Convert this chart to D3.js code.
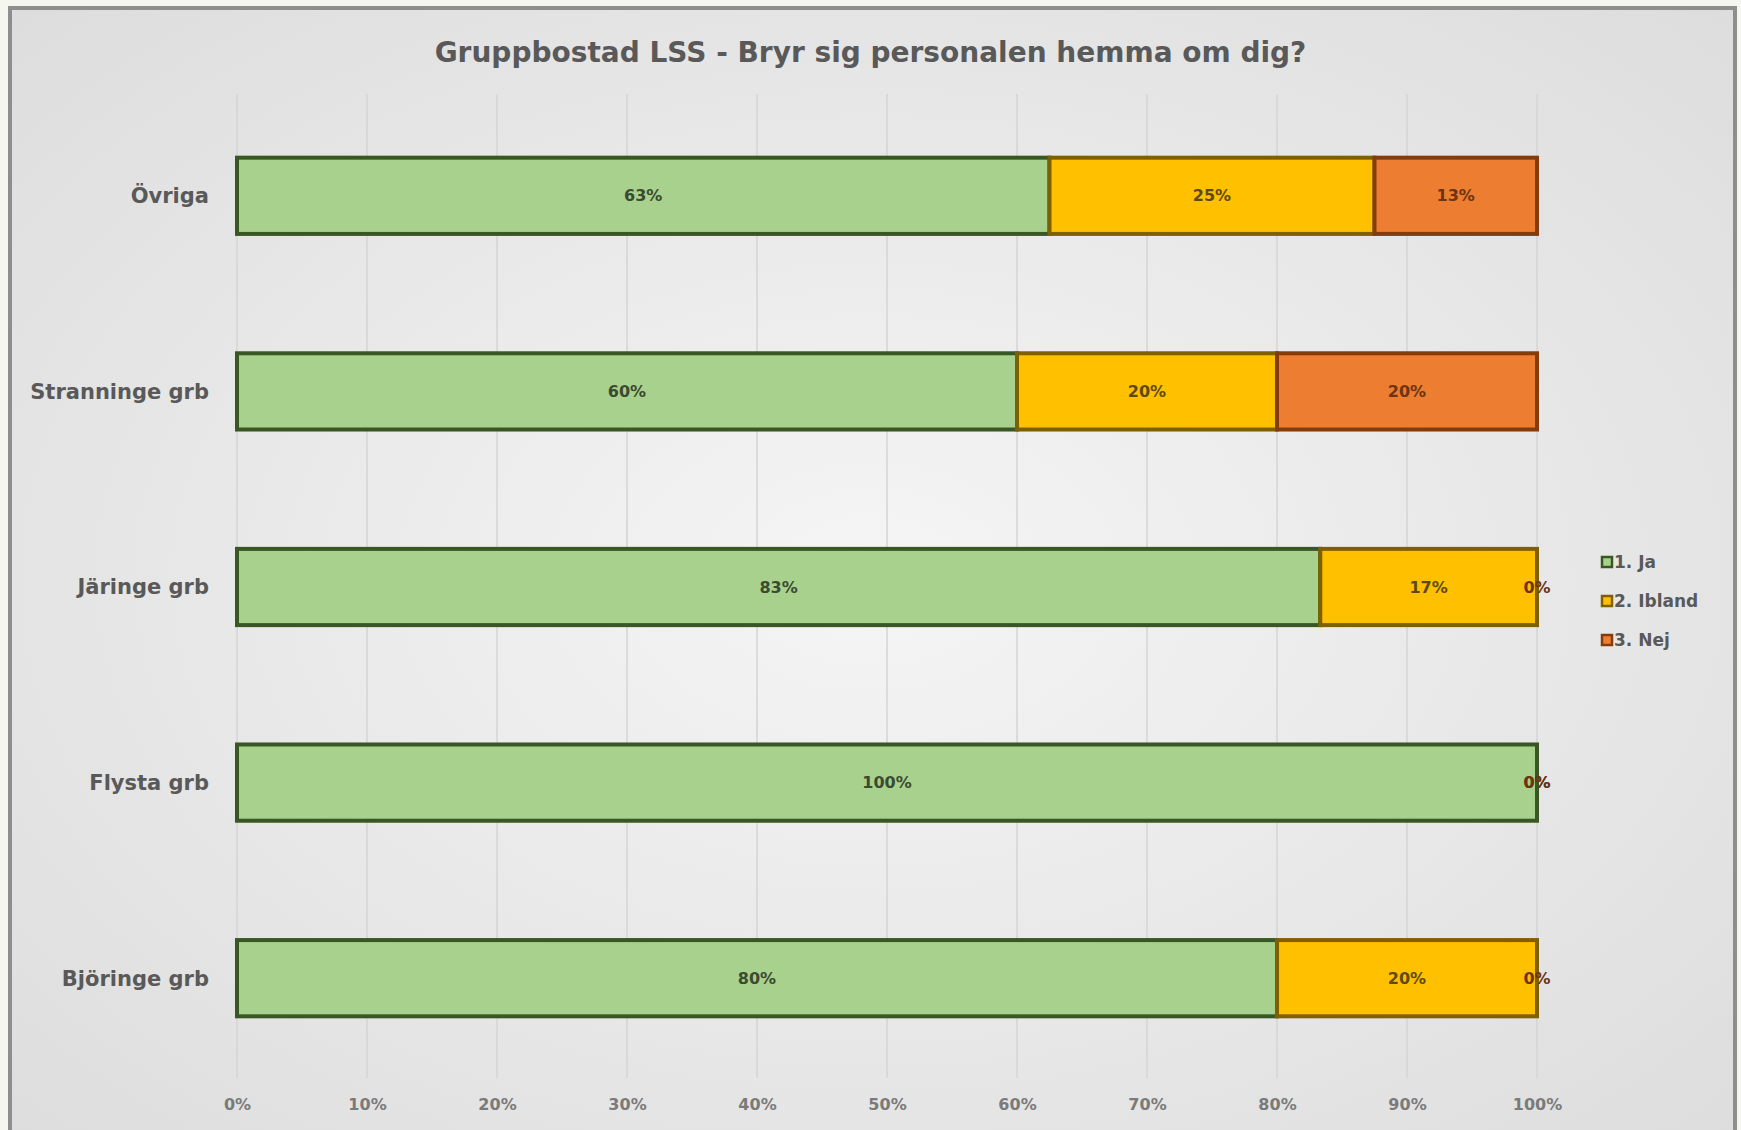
<!DOCTYPE html>
<html>
<head>
<meta charset="utf-8">
<script src="https://cdn.jsdelivr.net/npm/d3@7"></script>
<style>
  body { margin: 0; background: #f6f6f1; }
  svg text { font-family: "DejaVu Sans", sans-serif; }
</style>
</head>
<body>
<div class="chart-container"></div>
<script>
const width = 1741, height = 1130;

// chart values
const categories = ["Övriga", "Stranninge grb", "Järinge grb", "Flysta grb", "Björinge grb"];
const seriesNames = ["1. Ja", "2. Ibland", "3. Nej"];
const ja     = [0.625, 0.60, 0.8333, 1.00, 0.80];
const ibland = [0.25,  0.20, 0.1667, 0.00, 0.20];
const nej    = [0.125, 0.20, 0.00,   0.00, 0.00];
const xTicks = [0, 0.1, 0.2, 0.3, 0.4, 0.5, 0.6, 0.7, 0.8, 0.9, 1.0];
const title = "Gruppbostad LSS - Bryr sig personalen hemma om dig?";

const fills   = ["#a9d18e", "#ffc000", "#ed7d31"];
const strokes = ["#385723", "#7f6000", "#843c0c"];
const labelCol = ["#3b4a30", "#5e4a10", "#6b3412"];

var rows = categories.map((c, i) => ({cat: c, "1. Ja": ja[i], "2. Ibland": ibland[i], "3. Nej": nej[i]}));
var stacked = d3.stack().keys(seriesNames)(rows);

var svg = d3.select(".chart-container")
    .append("svg")
    .attr("width", width)
    .attr("height", height);

// background + frame
var defs = svg.append("defs");
var grad = defs.append("radialGradient").attr("id", "bg")
    .attr("cx", "50%").attr("cy", "50%").attr("r", "70%");
grad.append("stop").attr("offset", "0%").attr("stop-color", "#f5f5f5");
grad.append("stop").attr("offset", "100%").attr("stop-color", "#dddddd");

svg.append("rect")
    .attr("x", 10).attr("y", 8)
    .attr("width", 1725).attr("height", 1140)
    .attr("fill", "url(#bg)")
    .attr("stroke", "#8e8e8e")
    .attr("stroke-width", 4);

var margin = {left: 237, right: 1741 - 1537, top: 98, bottom: 1130 - 1076};

var x = d3.scaleLinear()
    .domain([0, 1])
    .range([margin.left, width - margin.right]);

var y = d3.scaleBand()
    .domain(categories)
    .range([margin.top, height - margin.bottom])
    .paddingInner(0.6)
    .paddingOuter(0.3);

// gridlines
svg.append("g")
    .selectAll("line")
    .data(xTicks)
    .enter()
    .append("line")
    .attr("x1", d => x(d)).attr("x2", d => x(d))
    .attr("y1", 94).attr("y2", 1078)
    .attr("stroke", "#d4d4d4")
    .attr("stroke-width", 1.5);

// x axis labels
var xAxis = d3.axisBottom(x).tickValues(xTicks).tickFormat(d3.format(".0%")).tickSize(0).tickPadding(0);
var xg = svg.append("g")
    .attr("transform", "translate(0,1099)")
    .call(xAxis);
xg.select(".domain").remove();
xg.selectAll("text")
    .attr("fill", "#7a7a7a")
    .style("font-size", "16px")
    .style("font-weight", "bold");

// y axis labels
var yAxis = d3.axisLeft(y).tickSize(0).tickPadding(28);
var yg = svg.append("g")
    .attr("transform", "translate(" + margin.left + ",0)")
    .call(yAxis);
yg.select(".domain").remove();
yg.selectAll("text")
    .attr("fill", "#595959")
    .attr("dy", "0.35em")
    .style("font-size", "21px")
    .style("font-weight", "bold");

// bars
var layers = svg.append("g")
    .selectAll("g")
    .data(stacked)
    .enter()
    .append("g");

layers.selectAll("rect")
    .data(d => d.map(v => ({v: v, k: d.index})))
    .enter()
    .append("rect")
    .attr("x", d => x(d.v[0]))
    .attr("y", d => y(d.v.data.cat) + 1)
    .attr("width", d => x(d.v[1]) - x(d.v[0]))
    .attr("height", y.bandwidth() - 2)
    .attr("fill", d => fills[d.k])
    .attr("stroke", d => strokes[d.k])
    .attr("stroke-width", 4);

// data labels
var fmt = d3.format(".0%");
layers.selectAll("text")
    .data(d => d.map(v => ({v: v, k: d.index})))
    .enter()
    .append("text")
    .attr("x", d => (x(d.v[0]) + x(d.v[1])) / 2)
    .attr("y", d => y(d.v.data.cat) + y.bandwidth() / 2)
    .attr("dy", "0.35em")
    .attr("text-anchor", "middle")
    .attr("fill", d => labelCol[d.k])
    .style("font-size", "16px")
    .style("font-weight", "bold")
    .text(d => fmt(d.v[1] - d.v[0]));

// title
svg.append("text")
    .attr("x", width / 2)
    .attr("y", 62)
    .attr("text-anchor", "middle")
    .attr("fill", "#595959")
    .style("font-size", "28px")
    .style("font-weight", "bold")
    .text(title);

// legend
var legend = svg.append("g")
    .selectAll("g")
    .data(seriesNames)
    .enter()
    .append("g")
    .attr("transform", (d, i) => "translate(1602," + (562 + i * 39) + ")");

legend.append("rect")
    .attr("x", 0).attr("y", -5)
    .attr("width", 10).attr("height", 10)
    .attr("fill", (d, i) => fills[i])
    .attr("stroke", (d, i) => strokes[i])
    .attr("stroke-width", 2.5);

legend.append("text")
    .attr("x", 12)
    .attr("dy", "0.35em")
    .attr("fill", "#595959")
    .style("font-size", "17px")
    .style("font-weight", "bold")
    .text(d => d);
</script>
</body>
</html>
